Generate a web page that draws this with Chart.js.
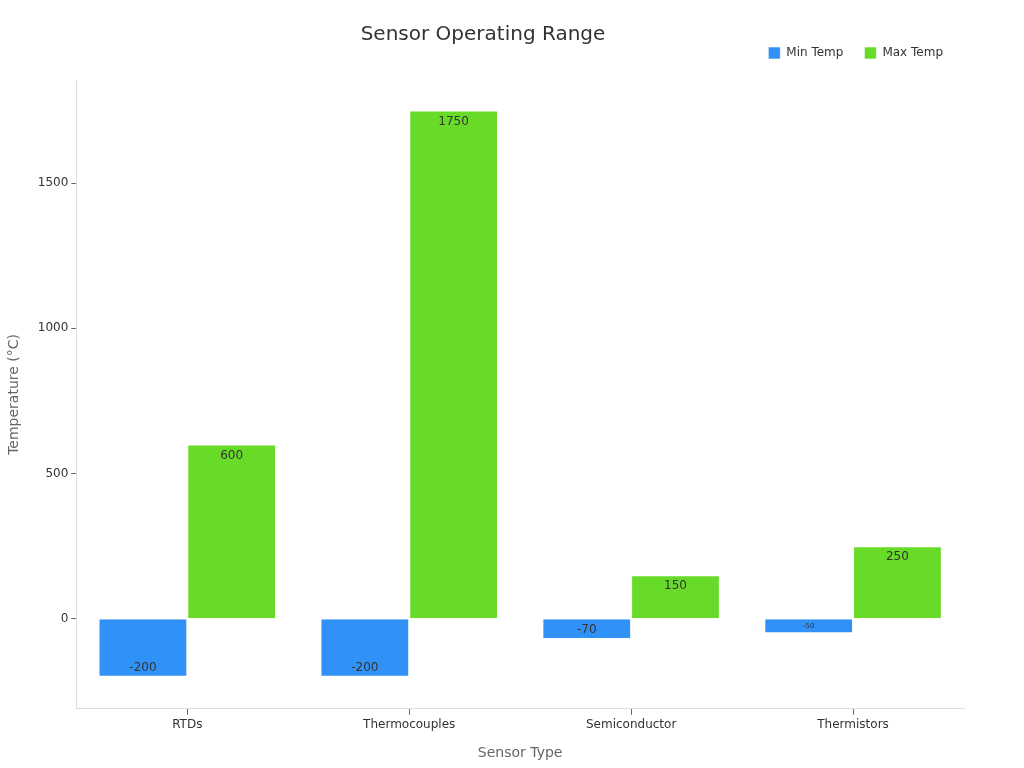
<!DOCTYPE html>
<html>
<head>
<meta charset="utf-8">
<script src="https://cdn.jsdelivr.net/npm/chart.js@4/dist/chart.umd.min.js"></script>
<style>
  html, body { margin: 0; padding: 0; background: #fff; }
  #wrap { width: 1024px; height: 768px; }
</style>
</head>
<body>
<div id="wrap"><canvas id="myChart" width="1024" height="768"></canvas></div>
<script>
// chart data
const sensorTypes = ['RTDs', 'Thermocouples', 'Semiconductor', 'Thermistors'];
const minTemps = [-200, -200, -70, -50];
const maxTemps = [600, 1750, 150, 250];
const yTicks = [0, 500, 1000, 1500];

// draws the value inside each bar, near its outer end
const barLabels = {
  id: 'barLabels',
  afterDatasetsDraw(chart) {
    const ctx = chart.ctx;
    ctx.save();
    ctx.fillStyle = '#333';
    ctx.textAlign = 'center';
    ctx.textBaseline = 'middle';
    chart.data.datasets.forEach((ds, i) => {
      chart.getDatasetMeta(i).data.forEach((bar, j) => {
        const v = ds.data[j];
        const h = Math.abs(bar.base - bar.y);
        const small = h < 16;
        ctx.font = (small ? 7 : 12) + 'px "DejaVu Sans"';
        const y = v >= 0 ? bar.y + 11 : bar.y - (small ? h / 2 : 9);
        ctx.fillText(String(v), bar.x, y);
      });
    });
    ctx.restore();
  }
};

// empty box between the legend and the plot, to leave some room
const legendGap = {
  id: 'legendGap',
  beforeInit(chart) {
    Chart.layouts.addBox(chart, {
      position: 'top',
      weight: 0,
      fullSize: true,
      options: {},
      isHorizontal() { return true; },
      getPadding() { return { top: 0, left: 0, right: 0, bottom: 0 }; },
      update(maxWidth) {
        this.width = maxWidth;
        this.height = 11;
      },
      draw() {},
    });
  }
};

Chart.defaults.font.family = '"DejaVu Sans", sans-serif';

new Chart(document.getElementById('myChart').getContext('2d'), {
  type: 'bar',
  data: {
    labels: sensorTypes,
    datasets: [
      {
        label: 'Min Temp',
        data: minTemps,
        backgroundColor: 'rgb(48,146,246)',
        borderColor: 'rgba(255,255,255,0.6)',
        borderWidth: 1,
        categoryPercentage: 0.8,
        barPercentage: 1.0,
      },
      {
        label: 'Max Temp',
        data: maxTemps,
        backgroundColor: 'rgb(103,219,40)',
        borderColor: 'rgba(255,255,255,0.6)',
        borderWidth: 1,
        categoryPercentage: 0.8,
        barPercentage: 1.0,
      },
    ],
  },
  options: {
    responsive: false,
    animation: false,
    layout: { padding: { left: 2, right: 60, top: 0, bottom: 2 } },
    plugins: {
      title: {
        display: true,
        text: 'Sensor Operating Range',
        color: '#333',
        font: { size: 20, weight: 'normal' },
        padding: { top: 23, bottom: -21 },
      },
      legend: {
        position: 'top',
        align: 'end',
        labels: {
          boxWidth: 12,
          boxHeight: 12,
          color: '#333',
          font: { size: 12 },
          padding: 21,
        },
      },
      tooltip: { enabled: false },
    },
    scales: {
      x: {
        grid: { display: true, offset: false, drawOnChartArea: false, color: '#666', tickLength: 6 },
        border: { color: '#ddd' },
        ticks: { color: '#333', font: { size: 12 } },
        title: {
          display: true,
          text: 'Sensor Type',
          color: '#666',
          font: { size: 14 },
          padding: { top: 10 },
        },
      },
      y: {
        min: -310,
        max: 1855,
        grid: { display: true, drawOnChartArea: false, color: '#666', tickLength: 5 },
        border: { color: '#ddd' },
        ticks: {
          color: '#333',
          font: { size: 12 },
          callback: (v) => String(v),
        },
        afterBuildTicks: (axis) => {
          axis.ticks = yTicks.map((v) => ({ value: v }));
        },
        title: {
          display: true,
          text: 'Temperature (°C)',
          color: '#666',
          font: { size: 14 },
          padding: { bottom: 12 },
        },
      },
    },
  },
  plugins: [barLabels, legendGap],
});
</script>
</body>
</html>
